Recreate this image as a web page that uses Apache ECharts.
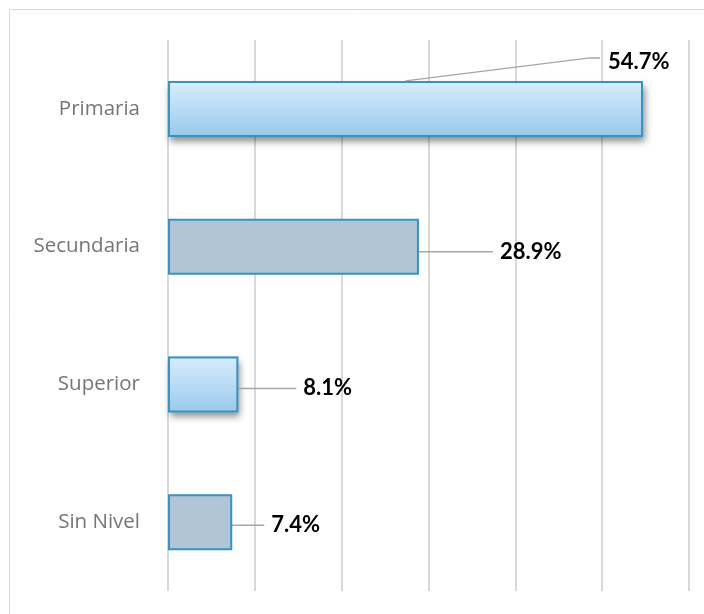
<!DOCTYPE html>
<html><head><meta charset="utf-8">
<script src="https://cdn.jsdelivr.net/npm/echarts@6/dist/echarts.min.js"></script>
<style>html,body{margin:0;padding:0;background:#fff;}#c{width:704px;height:614px;}</style>
</head><body><div id="c"></div>
<script>
var categories = ['Primaria', 'Secundaria', 'Superior', 'Sin Nivel'];
var values = [54.7, 28.9, 8.1, 7.4];
var labelShift = [[-40, -47], [69, 5], [53, 4], [27, 3]];
var BAR_W = 56;

var blueFill = new echarts.graphic.LinearGradient(0, 0, 0, 1, [
  {offset: 0, color: '#d9edfd'}, {offset: 1, color: '#98c9ec'}]);
var mainData = values.map(function (v, i) {
  return {
    value: v,
    itemStyle: i % 2 === 0 ? {color: blueFill, borderColor: '#3a93bf', borderWidth: 2}
                           : {color: '#b0c5d5', borderColor: '#3a93bf', borderWidth: 2},
    labelLine: {show: i !== 0}
  };
});
var shadowData = values.map(function (v, i) {
  return {
    value: v,
    itemStyle: i % 2 === 0 ? {color: '#9fc9e8', shadowBlur: 7, shadowOffsetY: 5, shadowOffsetX: 2,
                              shadowColor: 'rgba(0,0,0,0.45)'}
                           : {color: 'rgba(0,0,0,0)'}
  };
});

var chart = echarts.init(document.getElementById('c'));
chart.setOption({
  animation: false,
  graphic: [{type: 'rect', shape: {x: 9.5, y: 9.5, width: 720, height: 640},
    style: {fill: 'none', stroke: '#d9d9d9', lineWidth: 1}, silent: true, z: -1}],
  grid: {left: 168, right: 15, top: 40, bottom: 23},
  xAxis: {type: 'value', min: 0, max: 60, interval: 10,
    axisLabel: {show: false}, axisLine: {show: false}, axisTick: {show: false},
    splitLine: {show: true, lineStyle: {color: '#d9d9d9', width: 2}}},
  yAxis: {type: 'category', data: categories, inverse: true,
    axisLine: {show: false}, axisTick: {show: false},
    axisLabel: {color: '#767676', fontSize: 20.5, fontFamily: 'Open Sans', margin: 28}},
  series: [{
    type: 'bar', data: shadowData, barWidth: BAR_W, silent: true, z: 1
  }, {
    type: 'bar', data: mainData, barWidth: BAR_W, barGap: '-100%', z: 2,
    label: {show: true, position: 'right', distance: 5,
      formatter: function (p) {
        var t = p.value.toFixed(1) + '%';
        return p.dataIndex === 0 ? '{v|' + t + '}' : '{g|}{v|' + t + '}';
      },
      rich: {
        g: {width: 7},
        v: {color: '#000', fontWeight: 'bold', fontSize: 22, fontFamily: 'Lato'}
      }},
    labelLine: {lineStyle: {color: '#a6a6a6', width: 1.5}},
    labelLayout: function (p) {
      var s = labelShift[p.dataIndex];
      return {dx: s[0], dy: s[1]};
    }
  }, {
    type: 'custom', z: 3, silent: true,
    data: [[values[0], 0]],
    renderItem: function (params, api) {
      var v = api.value(0), c = api.value(1);
      var mid = api.coord([v / 2, c]);
      var end = api.coord([v, c]);
      var top = mid[1] - BAR_W / 2;
      var ly = end[1] - 51;
      return {type: 'polyline',
        shape: {points: [[mid[0], top], [end[0] - 53, ly], [end[0] - 43, ly]]},
        style: {stroke: '#a6a6a6', lineWidth: 1.5, fill: 'none'}};
    }
  }]
});
</script></body></html>
